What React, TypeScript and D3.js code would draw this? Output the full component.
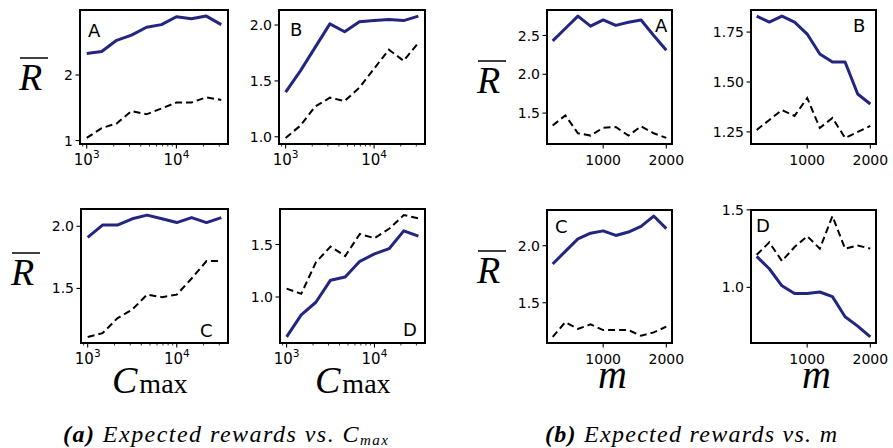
import React from "react";
import * as d3 from "d3";

// x values
const cmaxValues = [1000, 1468, 2154, 3162, 4642, 6813, 10000, 14678, 21544, 31623];
const mValues = [200, 400, 600, 800, 1000, 1200, 1400, 1600, 1800, 2000];

// (a) reward vs C_max
const cmaxA_solid = [2.33, 2.36, 2.53, 2.61, 2.73, 2.77, 2.89, 2.86, 2.9, 2.77];
const cmaxA_dashed = [1.04, 1.19, 1.26, 1.45, 1.4, 1.49, 1.58, 1.58, 1.66, 1.62];
const cmaxB_solid = [1.4, 1.59, 1.8, 2.01, 1.94, 2.03, 2.04, 2.05, 2.04, 2.08];
const cmaxB_dashed = [0.99, 1.1, 1.27, 1.35, 1.32, 1.44, 1.61, 1.78, 1.68, 1.84];
const cmaxC_solid = [1.91, 2.01, 2.01, 2.06, 2.09, 2.06, 2.03, 2.07, 2.03, 2.07];
const cmaxC_dashed = [1.11, 1.14, 1.26, 1.33, 1.45, 1.43, 1.45, 1.58, 1.72, 1.72];
const cmaxD_solid = [0.62, 0.83, 0.95, 1.16, 1.19, 1.34, 1.41, 1.46, 1.63, 1.58];
const cmaxD_dashed = [1.08, 1.03, 1.33, 1.48, 1.39, 1.6, 1.56, 1.65, 1.78, 1.75];

// (b) reward vs m
const mA_solid = [2.43, 2.59, 2.75, 2.62, 2.7, 2.63, 2.67, 2.7, 2.5, 2.31];
const mA_dashed = [1.34, 1.47, 1.24, 1.21, 1.31, 1.32, 1.21, 1.33, 1.24, 1.18];
const mB_solid = [1.83, 1.8, 1.83, 1.8, 1.74, 1.64, 1.6, 1.6, 1.44, 1.39];
const mB_dashed = [1.26, 1.31, 1.36, 1.33, 1.42, 1.27, 1.32, 1.22, 1.25, 1.28];
const mC_solid = [1.84, 1.95, 2.06, 2.11, 2.13, 2.09, 2.12, 2.17, 2.26, 2.15];
const mC_dashed = [1.2, 1.33, 1.27, 1.31, 1.26, 1.26, 1.26, 1.21, 1.24, 1.29];
const mD_solid = [1.2, 1.12, 1.01, 0.96, 0.96, 0.97, 0.94, 0.81, 0.75, 0.68];
const mD_dashed = [1.21, 1.29, 1.17, 1.26, 1.33, 1.25, 1.46, 1.25, 1.27, 1.25];

const yTicksCmaxA = [1, 2];
const yTicksCmaxB = [1.0, 1.5, 2.0];
const yTicksCmaxC = [1.5, 2.0];
const yTicksCmaxD = [1.0, 1.5];
const yTicksMA = [1.5, 2.0, 2.5];
const yTicksMB = [1.25, 1.5, 1.75];
const yTicksMC = [1.5, 2.0];
const yTicksMD = [1.0, 1.5];
const mTicks = [1000, 2000];

const NAVY = "#232680";
const TICK_FONT = "DejaVu Sans";

const panels = [
  { x0: 80, x1: 228, y0: 10, y1: 144, log: true, xs: cmaxValues, solid: cmaxA_solid, dashed: cmaxA_dashed, yTicks: yTicksCmaxA, fmt: "d", label: "A", lx: 88, ly: 37 },
  { x0: 279, x1: 425, y0: 10, y1: 144, log: true, xs: cmaxValues, solid: cmaxB_solid, dashed: cmaxB_dashed, yTicks: yTicksCmaxB, fmt: ".1f", label: "B", lx: 290, ly: 36 },
  { x0: 81, x1: 228, y0: 209, y1: 343, log: true, xs: cmaxValues, solid: cmaxC_solid, dashed: cmaxC_dashed, yTicks: yTicksCmaxC, fmt: ".1f", label: "C", lx: 200, ly: 337 },
  { x0: 280, x1: 425, y0: 209, y1: 343, log: true, xs: cmaxValues, solid: cmaxD_solid, dashed: cmaxD_dashed, yTicks: yTicksCmaxD, fmt: ".1f", label: "D", lx: 403, ly: 336 },
  { x0: 547, x1: 672, y0: 10, y1: 144, log: false, xs: mValues, solid: mA_solid, dashed: mA_dashed, yTicks: yTicksMA, fmt: ".1f", label: "A", lx: 655, ly: 32 },
  { x0: 751, x1: 876, y0: 10, y1: 144, log: false, xs: mValues, solid: mB_solid, dashed: mB_dashed, yTicks: yTicksMB, fmt: ".2f", label: "B", lx: 853, ly: 32 },
  { x0: 547, x1: 672, y0: 210, y1: 343, log: false, xs: mValues, solid: mC_solid, dashed: mC_dashed, yTicks: yTicksMC, fmt: ".1f", label: "C", lx: 555, ly: 233 },
  { x0: 751, x1: 876, y0: 210, y1: 343, log: false, xs: mValues, solid: mD_solid, dashed: mD_dashed, yTicks: yTicksMD, fmt: ".1f", label: "D", lx: 756, ly: 232 },
];

function Panel({ p }) {
  // matplotlib-ish 5% margins
  let yScale;
  {
    const all = p.solid.concat(p.dashed);
    const lo = d3.min(all), hi = d3.max(all);
    const pad = (hi - lo) * 0.05;
    yScale = d3.scaleLinear().domain([lo - pad, hi + pad]).range([p.y1, p.y0]);
  }
  let xScale;
  if (p.log) {
    const l0 = Math.log10(d3.min(p.xs)), l1 = Math.log10(d3.max(p.xs));
    const pad = (l1 - l0) * 0.05;
    xScale = d3.scaleLog().domain([10 ** (l0 - pad), 10 ** (l1 + pad)]).range([p.x0, p.x1]);
  } else {
    const lo = d3.min(p.xs), hi = d3.max(p.xs);
    const pad = (hi - lo) * 0.05;
    xScale = d3.scaleLinear().domain([lo - pad, hi + pad]).range([p.x0, p.x1]);
  }

  const line = d3.line().x((d) => xScale(d[0])).y((d) => yScale(d[1]));
  const solidPts = p.xs.map((x, i) => [x, p.solid[i]]);
  const dashedPts = p.xs.map((x, i) => [x, p.dashed[i]]);
  const fmt = d3.format(p.fmt);

  let xTickEls = [];
  if (p.log) {
    const ticks = xScale.ticks();
    for (const t of ticks) {
      const e = Math.log10(t);
      const major = Math.abs(e - Math.round(e)) < 1e-9;
      const x = xScale(t);
      xTickEls.push(<line key={"t" + t} x1={x} x2={x} y1={p.y1} y2={p.y1 + (major ? 4.5 : 2.5)} stroke="#000" strokeWidth={major ? 1.1 : 0.8} />);
      if (major) {
        xTickEls.push(
          <text key={"l" + t} x={x} y={p.y1 + 21} textAnchor="middle" fontFamily={TICK_FONT} fontSize={15}>
            10<tspan dy={-7} fontSize={10.5}>{Math.round(e)}</tspan>
          </text>
        );
      }
    }
  } else {
    for (const t of mTicks) {
      const x = xScale(t);
      xTickEls.push(<line key={"t" + t} x1={x} x2={x} y1={p.y1} y2={p.y1 + 4.5} stroke="#000" strokeWidth={1.1} />);
      xTickEls.push(
        <text key={"l" + t} x={x} y={p.y1 + 21} textAnchor="middle" fontFamily={TICK_FONT} fontSize={14}>
          {t}
        </text>
      );
    }
  }

  return (
    <g>
      <path d={line(dashedPts)} fill="none" stroke="#000" strokeWidth={2} strokeDasharray="7,4" />
      <path d={line(solidPts)} fill="none" stroke={NAVY} strokeWidth={3} strokeLinejoin="round" />
      <rect x={p.x0} y={p.y0} width={p.x1 - p.x0} height={p.y1 - p.y0} fill="none" stroke="#000" strokeWidth={2} />
      {p.yTicks.map((t) => (
        <g key={t}>
          <line x1={p.x0 - 4.5} x2={p.x0} y1={yScale(t)} y2={yScale(t)} stroke="#000" strokeWidth={1.1} />
          <text x={p.x0 - 7} y={yScale(t)} dy="0.36em" textAnchor="end" fontFamily={TICK_FONT} fontSize={14}>
            {fmt(t)}
          </text>
        </g>
      ))}
      {xTickEls}
      <text x={p.lx} y={p.ly} fontFamily={TICK_FONT} fontSize={18}>{p.label}</text>
    </g>
  );
}

function RBar({ x, y }) {
  return (
    <g>
      <text x={x} y={y} fontFamily="Liberation Serif" fontStyle="italic" fontSize={38}>R</text>
      <line x1={x + 1} x2={x + 29} y1={y - 32} y2={y - 32} stroke="#000" strokeWidth={1.5} />
    </g>
  );
}

function CmaxLabel({ x, y }) {
  return (
    <text x={x} y={y} fontFamily="Liberation Serif">
      <tspan fontStyle="italic" fontSize={38}>C</tspan>
      <tspan fontSize={28} dx={2}>max</tspan>
    </text>
  );
}

export default function App() {
  return (
    <svg width={893} height={448} style={{ position: "absolute", left: 0, top: 0, background: "#fff" }}>
      {panels.map((p, i) => <Panel key={i} p={p} />)}
      <RBar x={19} y={90} />
      <RBar x={11} y={285} />
      <RBar x={477} y={93} />
      <RBar x={477} y={283} />
      <CmaxLabel x={112} y={393} />
      <CmaxLabel x={315} y={393} />
      <text x={598} y={388} fontFamily="Liberation Serif" fontStyle="italic" fontSize={40}>m</text>
      <text x={802} y={388} fontFamily="Liberation Serif" fontStyle="italic" fontSize={40}>m</text>
      <text x={63} y={442} fontFamily="Liberation Serif" fontStyle="italic" fontSize={24} textLength={325} lengthAdjust="spacing">
        <tspan fontWeight="bold">(a)</tspan> Expected rewards vs. C<tspan fontSize={15} dy={3}>max</tspan>
      </text>
      <text x={545} y={442} fontFamily="Liberation Serif" fontStyle="italic" fontSize={24} textLength={292} lengthAdjust="spacing">
        <tspan fontWeight="bold">(b)</tspan> Expected rewards vs. m
      </text>
    </svg>
  );
}
